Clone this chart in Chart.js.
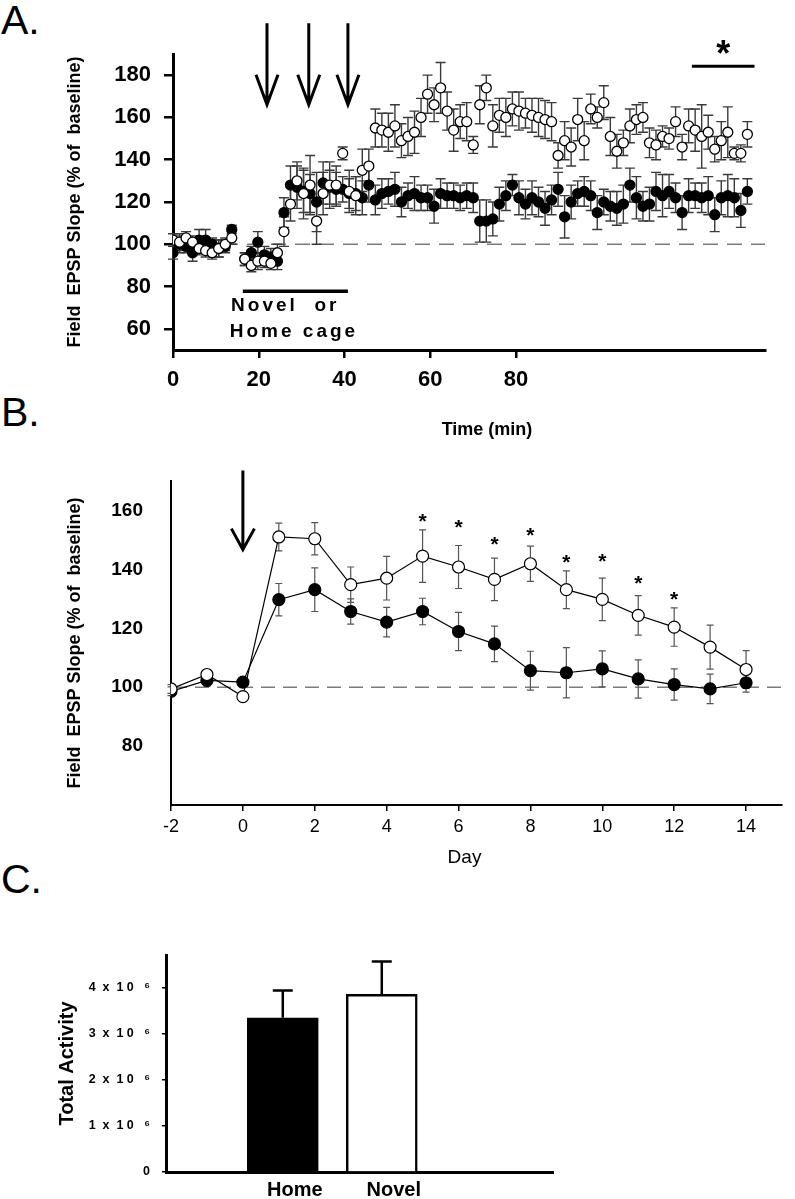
<!DOCTYPE html>
<html>
<head>
<meta charset="utf-8">
<script src="https://cdn.jsdelivr.net/npm/chart.js@4.4.1/dist/chart.umd.min.js"></script>
<style>
  body { margin: 0; background: #fff; width: 795px; height: 1199px; overflow: hidden; position: relative; font-family: "Liberation Sans", Arial, sans-serif; }
  .panel { position: absolute; left: 0; width: 795px; }
  .tag { position: absolute; left: 1px; font-size: 41px; color: #000; line-height: 1; }
</style>
</head>
<body>
<div class="tag" style="top:0px">A.</div>
<div class="tag" style="top:392px">B.</div>
<div class="tag" style="top:859px">C.</div>
<div class="panel" style="top:0;height:460px"><canvas id="chartA"></canvas></div>
<div class="panel" style="top:440px;height:440px"><canvas id="chartB"></canvas></div>
<div class="panel" style="top:900px;height:299px"><canvas id="chartC"></canvas></div>
<script>
// ---- panel A: one sample per minute, 0..88 ----
const novelA = [102,101,103,101,98,97,96,98,100,103, null,
  93,90,92,92,91,96,
  106,119,130,124,128,111,124,128,128,143,125,123,135,
  137,155,154,153,156,149,151,153,160,171,166,174,163,154,158,158,147,166,174,156,
  161,160,164,163,162,161,160,159,158,142,149,146,159,149,164,160,167,151,144,148,
  156,159,160,148,147,151,150,158,146,156,154,151,153,145,149,153,143,143,152];
const novelErrA = [3,4,3,3,3,3,3,4,3,3, 0,
  3,3,4,3,3,4,
  7,8,9,12,14,11,10,11,9,3,10,9,10,
  8,9,8,9,10,8,9,10,9,9,8,12,9,10,8,9,4,9,6,10,
  8,9,8,9,7,8,9,9,9,6,9,9,10,9,7,5,8,9,8,6,
  8,7,7,7,7,5,5,7,6,8,10,15,8,6,9,12,3,4,6];
const homeA = [96,100,99,96,102,102,100,98,99,107, null,
  93,96,101,95,94,92,
  115,128,127,125,124,120,129,127,126,126,124,124,122,
  128,121,124,125,126,120,123,124,122,122,118,124,123,123,122,123,122,111,111,112,
  119,123,128,122,119,122,120,117,121,126,113,120,124,125,123,115,120,118,117,119,
  128,122,118,119,125,123,125,122,115,123,123,122,123,114,122,123,122,116,125];
const homeErrA = [3,4,3,4,5,5,3,4,3,2, 0,
  3,3,5,4,4,4,
  7,9,10,10,9,14,10,8,8,6,7,8,8,
  8,7,7,6,8,7,6,8,6,6,8,7,6,6,6,6,7,10,10,8,
  8,7,5,8,7,8,7,8,7,8,10,8,6,7,7,8,6,7,8,9,
  8,10,7,8,9,10,8,7,8,8,6,7,9,8,8,10,9,8,6];
const timeTicksA = [0, 20, 40, 60, 80];     // printed tick labels on the time axis
const tickSpacingA = 0.657;                  // samples per printed tick unit
const slopeTicksA = [60, 80, 100, 120, 140, 160, 180];
const arrowSamplesA = [14.4, 20.8, 26.8];

// ---- panel B: days ----
const days = [-2,-1,0,1,2,3,4,5,6,7,8,9,10,11,12,13,14];
const novelB = [99.4,104.3,96.8,151,150.4,134.8,137,144.5,140.8,136.6,141.9,133.1,129.8,124.4,120.4,113.6,106];
const novelErrB = [1.5,1.5,1.5,4.7,5.5,6,7.4,8.9,7.3,7.2,6,6.4,7.2,6.7,6.5,7.5,6.4];
const homeB = [98.6,102.3,101.7,129.7,133.1,125.7,122.1,125.7,118.9,114.7,105.6,104.9,106.2,102.8,100.9,99.4,101.5];
const homeErrB = [1.5,2,1.5,5.5,7.4,4.3,5,4.5,6.5,6,6.6,8.5,6.1,6.5,5.3,5,3.2];
const starDaysB = [5,6,7,8,9,10,11,12];
const starLevelsB = [158,156,150.2,153.2,144.3,144.7,137.2,131.7];
const dayTicksB = [-2,0,2,4,6,8,10,12,14];
const slopeTicksB = [80,100,120,140,160];

// ---- panel C ----
const groups = ['Home', 'Novel'];
const activity = [3.34e6, 3.85e6];
const activityErr = [0.59e6, 0.71e6];
const activityTicks = [0, 1e6, 2e6, 3e6, 4e6];
const activityTickLabels = ['0', '1  x  1 0   \u2076', '2  x  1 0   \u2076', '3  x  1 0   \u2076', '4  x  1 0   \u2076'];

Chart.defaults.font.family = '"Liberation Sans", Arial, sans-serif';
Chart.defaults.color = '#000';
Chart.defaults.animation = false;

const errorBars = {
  id: 'errorBars',
  beforeDatasetsDraw(chart, args, opts) {
    const {ctx, scales: {x, y}} = chart;
    ctx.save();
    ctx.strokeStyle = opts.color;
    ctx.lineWidth = opts.width;
    opts.sets.forEach(set => {
      chart.data.datasets[set.dataset].data.forEach((d, i) => {
        const e = set.errors[i];
        if (d.y === null || !e) return;
        const px = x.getPixelForValue(d.x);
        const top = y.getPixelForValue(d.y + e);
        const bot = y.getPixelForValue(set.upOnly ? d.y : d.y - e);
        ctx.beginPath();
        ctx.moveTo(px, top); ctx.lineTo(px, bot);
        ctx.moveTo(px - opts.cap, top); ctx.lineTo(px + opts.cap, top);
        if (!set.upOnly) { ctx.moveTo(px - opts.cap, bot); ctx.lineTo(px + opts.cap, bot); }
        ctx.stroke();
      });
    });
    ctx.restore();
  }
};

const baseline = {
  id: 'baseline',
  beforeDatasetsDraw(chart, args, opts) {
    const {ctx, chartArea, scales: {y}} = chart;
    const py = y.getPixelForValue(100);
    ctx.save();
    ctx.strokeStyle = '#7a7a7a';
    ctx.lineWidth = 1.5;
    ctx.setLineDash(opts.dash);
    ctx.beginPath();
    ctx.moveTo(chartArea.left + 2, py); ctx.lineTo(chartArea.right, py);
    ctx.stroke();
    ctx.restore();
  }
};

function drawArrow(ctx, px, top, tip, hw, hh) {
  ctx.beginPath();
  ctx.moveTo(px, top); ctx.lineTo(px, tip);
  ctx.moveTo(px - hw, tip - hh); ctx.lineTo(px, tip); ctx.lineTo(px + hw, tip - hh);
  ctx.stroke();
}

const notesA = {
  id: 'notesA',
  afterDraw(chart) {
    const {ctx, scales: {x, y}} = chart;
    ctx.save();
    ctx.strokeStyle = '#000';
    ctx.fillStyle = '#000';
    ctx.lineWidth = 3;
    arrowSamplesA.forEach(s => drawArrow(ctx, x.getPixelForValue(s), y.getPixelForValue(204.5), y.getPixelForValue(166), 11, 30));
    // exposure bar + label
    ctx.lineWidth = 3.5;
    ctx.beginPath();
    ctx.moveTo(x.getPixelForValue(10.7), y.getPixelForValue(77.8));
    ctx.lineTo(x.getPixelForValue(26.8), y.getPixelForValue(77.8));
    ctx.stroke();
    ctx.font = 'bold 19px "Liberation Sans", Arial';
    ctx.letterSpacing = '3px';
    ctx.textBaseline = 'middle';
    ctx.fillText('Novel  or', x.getPixelForValue(8.9), y.getPixelForValue(70.7));
    ctx.fillText('Home cage', x.getPixelForValue(8.7), y.getPixelForValue(58.4));
    ctx.letterSpacing = '0px';
    // significance bar
    ctx.lineWidth = 3;
    ctx.beginPath();
    ctx.moveTo(x.getPixelForValue(79.5), y.getPixelForValue(184.2));
    ctx.lineTo(x.getPixelForValue(89.1), y.getPixelForValue(184.2));
    ctx.stroke();
    ctx.font = 'bold 36px "Liberation Sans", Arial';
    ctx.textAlign = 'center';
    ctx.textBaseline = 'alphabetic';
    ctx.fillText('*', x.getPixelForValue(84.3), y.getPixelForValue(194) + 20);
    // x title, set a little right of the axis centre as in the figure
    ctx.font = 'bold 18px "Liberation Sans", Arial';
    ctx.textBaseline = 'middle';
    ctx.fillText('Time (min)', (chart.chartArea.left + chart.chartArea.right) / 2 + 18, 430);
    ctx.restore();
  }
};

const notesB = {
  id: 'notesB',
  afterDraw(chart) {
    const {ctx, scales: {x, y}} = chart;
    ctx.save();
    ctx.strokeStyle = '#000';
    ctx.fillStyle = '#000';
    ctx.lineWidth = 3;
    drawArrow(ctx, x.getPixelForValue(0), y.getPixelForValue(173.6), y.getPixelForValue(146.7), 11.5, 21);
    ctx.font = 'bold 21px "Liberation Sans", Arial';
    ctx.textAlign = 'center';
    starDaysB.forEach((d, i) => ctx.fillText('*', x.getPixelForValue(d), y.getPixelForValue(starLevelsB[i]) + 12));
    ctx.font = '19px "Liberation Sans", Arial';
    ctx.textBaseline = 'middle';
    ctx.fillText('Day', (chart.chartArea.left + chart.chartArea.right) / 2 - 12, 418);
    ctx.restore();
  }
};

function axisFont(size, weight) {
  return {family: '"Liberation Sans", Arial, sans-serif', size: size, weight: weight};
}

// ---------- A ----------
new Chart(document.getElementById('chartA'), {
  type: 'scatter',
  data: {
    datasets: [
      {data: novelA.map((v, i) => ({x: i, y: v})), pointRadius: 5, pointBackgroundColor: '#fff', pointBorderColor: '#000', pointBorderWidth: 1.3, showLine: false},
      {data: homeA.map((v, i) => ({x: i, y: v})), pointRadius: 5, pointBackgroundColor: '#000', pointBorderColor: '#000', pointBorderWidth: 1.3, showLine: false}
    ]
  },
  options: {
    responsive: true,
    maintainAspectRatio: false,
    layout: {padding: {left: 60, right: 30, top: 54, bottom: 10}},
    plugins: {
      legend: {display: false},
      tooltip: {enabled: false},
      errorBars: {color: '#3a3a3a', width: 1.4, cap: 5, sets: [{dataset: 1, errors: homeErrA}, {dataset: 0, errors: novelErrA}]},
      baseline: {dash: [15, 9]}
    },
    scales: {
      x: {
        type: 'linear', min: 0, max: 90.7,
        afterBuildTicks: s => { s.ticks = timeTicksA.map(t => ({value: t * tickSpacingA})); },
        afterFit: s => { s.height = 100; },
        ticks: {callback: (v, i) => timeTicksA[i], font: axisFont(22, 'bold'), padding: 9, maxRotation: 0},
        grid: {drawOnChartArea: false, drawTicks: true, tickLength: 8, color: '#000', lineWidth: 2.5},
        border: {display: true, color: '#000', width: 3}
      },
      y: {
        min: 50, max: 190,
        afterBuildTicks: s => { s.ticks = slopeTicksA.map(v => ({value: v})); },
        afterFit: s => { s.width = 113; },
        ticks: {font: axisFont(22, 'bold'), padding: 13},
        grid: {drawOnChartArea: false, drawTicks: true, tickLength: 9, color: '#000', lineWidth: 2.5},
        border: {display: true, color: '#000', width: 3},
        title: {display: true, text: 'Field  EPSP Slope (% of  baseline)', font: axisFont(18, 'bold'), padding: {top: 4, bottom: 0}}
      }
    }
  },
  plugins: [baseline, errorBars, notesA]
});

// ---------- B ----------
new Chart(document.getElementById('chartB'), {
  type: 'scatter',
  data: {
    datasets: [
      {data: novelB.map((v, i) => ({x: days[i], y: v})), showLine: true, borderColor: '#000', borderWidth: 1.2, pointRadius: 6, pointBackgroundColor: '#fff', pointBorderColor: '#000', pointBorderWidth: 1.2},
      {data: homeB.map((v, i) => ({x: days[i], y: v})), showLine: true, borderColor: '#000', borderWidth: 1.2, pointRadius: 6, pointBackgroundColor: '#000', pointBorderColor: '#000', pointBorderWidth: 1.2}
    ]
  },
  options: {
    responsive: true,
    maintainAspectRatio: false,
    layout: {padding: {left: 60, right: 13, top: 41, bottom: 5}},
    plugins: {
      legend: {display: false},
      tooltip: {enabled: false},
      errorBars: {color: '#555', width: 1.2, cap: 3.5, sets: [{dataset: 1, errors: homeErrB}, {dataset: 0, errors: novelErrB}]},
      baseline: {dash: [14, 8]}
    },
    scales: {
      x: {
        type: 'linear', min: -2, max: 15,
        afterBuildTicks: s => { s.ticks = dayTicksB.map(v => ({value: v})); },
        afterFit: s => { s.height = 70; },
        ticks: {font: axisFont(18, 'normal'), padding: 5, maxRotation: 0},
        grid: {drawOnChartArea: false, drawTicks: true, tickLength: 6, color: '#000', lineWidth: 1.5},
        border: {display: true, color: '#000', width: 2}
      },
      y: {
        min: 60, max: 170,
        afterBuildTicks: s => { s.ticks = slopeTicksB.map(v => ({value: v})); },
        afterFit: s => { s.width = 111; },
        ticks: {font: axisFont(19, 'bold'), padding: 28},
        grid: {drawOnChartArea: false, drawTicks: false},
        border: {display: true, color: '#000', width: 2},
        title: {display: true, text: 'Field  EPSP Slope (% of  baseline)', font: axisFont(18, 'bold'), padding: {top: 4, bottom: 0}}
      }
    }
  },
  plugins: [baseline, errorBars, notesB]
});

// ---------- C ----------
new Chart(document.getElementById('chartC'), {
  type: 'bar',
  data: {
    datasets: [{
      data: activity.map((v, i) => ({x: i, y: v})),
      backgroundColor: ['#000', '#fff'],
      borderColor: '#000',
      borderWidth: 2.5,
      barThickness: 71
    }]
  },
  options: {
    responsive: true,
    maintainAspectRatio: false,
    layout: {padding: {left: 45, right: 242, top: 55, bottom: 0}},
    plugins: {
      legend: {display: false},
      tooltip: {enabled: false},
      errorBars: {color: '#000', width: 2.5, cap: 10, sets: [{dataset: 0, errors: activityErr, upOnly: true}]}
    },
    scales: {
      x: {
        type: 'linear', min: -1.18, max: 2.73, offset: false,
        afterBuildTicks: s => { s.ticks = groups.map((g, i) => ({value: i})); },
        afterFit: s => { s.height = 27; },
        ticks: {callback: (v, i) => groups[i], font: axisFont(20, 'bold'), padding: 6, labelOffset: 12, maxRotation: 0},
        grid: {drawOnChartArea: false, drawTicks: false},
        border: {display: true, color: '#000', width: 3}
      },
      y: {
        min: 0, max: 4.7e6,
        afterBuildTicks: s => { s.ticks = activityTicks.map(v => ({value: v})); },
        afterFit: s => { s.width = 121; },
        ticks: {callback: (v, i) => activityTickLabels[i], font: axisFont(12.5, 'bold'), padding: 12},
        grid: {drawOnChartArea: false, drawTicks: true, tickLength: 4, color: '#000', lineWidth: 1.5},
        border: {display: true, color: '#000', width: 3},
        title: {display: true, text: 'Total Activity', font: axisFont(20, 'bold'), padding: {top: 10, bottom: 0}}
      }
    }
  },
  plugins: [errorBars]
});
</script>
</body>
</html>
